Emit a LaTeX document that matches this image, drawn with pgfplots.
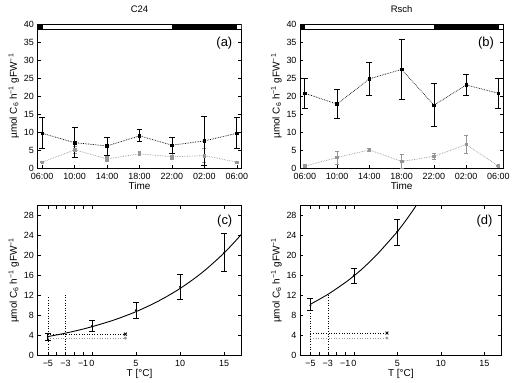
\documentclass[border=0pt]{standalone}
\usepackage{fontspec}
\setmainfont{Liberation Sans}
\usepackage{pgfplots}
\pgfplotsset{compat=1.18}
\definecolor{gser}{RGB}{150,150,150}
\newcommand{\ylab}{µmol C\textsubscript{6} h\textsuperscript{−1} gFW\textsuperscript{−1}}
\pgfplotsset{
  base/.style={scale only axis, axis line style={black, line width=0.7pt},
    tick style={black, line width=0.6pt}, major tick length=3.5pt,
    tick label style={font=\fontsize{9}{10}\selectfont},
    xticklabel style={yshift=-1.5pt},
    label style={font=\fontsize{10}{11}\selectfont},
    title style={font=\fontsize{9.5}{10}\selectfont, yshift=1.5bp},
    /pgf/number format/assume math mode=true, clip=true},
  timeax/.style={base, xmin=-0.6, xmax=24.6, ymin=0, ymax=40,
    xtick={0,4,...,24}, xticklabels={06:00,10:00,14:00,18:00,22:00,02:00,06:00},
    ytick={0,5,...,40}, xlabel={Time}, ylabel={\ylab}, xtick pos=left, ytick pos=both,
    xlabel style={yshift=4pt}, ylabel style={yshift=-2pt}},
  tempax/.style={base, xmin=-6.2, xmax=17, ymin=0, ymax=30,
    xtick={-5,-4,-3,-2,-1,0,5,10,15}, xticklabels={−5,,−3,,−1,0,5,10,15},
    ytick={0,4,...,28}, xlabel={T [°C]}, ylabel={\ylab}, xtick pos=both, ytick pos=both,
    xlabel style={yshift=4pt}, ylabel style={yshift=-2pt}},
  blk/.style={black, densely dotted, line width=0.7pt, mark=square*, mark size=1.3pt,
    mark options={solid},
    error bars/.cd, y dir=both, y explicit,
    error bar style={solid, line width=0.8pt, black},
    error mark options={rotate=90, mark size=3pt, line width=0.8pt, black}},
  gry/.style={gser, densely dotted, line width=0.7pt, mark=square*, mark size=1.3pt,
    mark options={solid},
    error bars/.cd, y dir=both, y explicit,
    error bar style={solid, line width=0.8pt, gser},
    error mark options={rotate=90, mark size=2pt, line width=0.8pt, gser}},
  fitpt/.style={black, only marks, mark=*, mark size=0.8pt,
    error bars/.cd, y dir=both, y explicit,
    error bar style={solid, line width=0.8pt, black},
    error mark options={rotate=90, mark size=3pt, line width=0.8pt, black}},
  curve/.style={black, line width=0.9pt, smooth, no marks},
  vdot/.style={black, dotted, line width=0.6pt, no marks},
}
\begin{document}
\begin{tikzpicture}
\path[use as bounding box] (0,0) rectangle (513bp,383bp);
% (a)
\begin{axis}[timeax, at={(37.3bp,214.7bp)}, anchor=south west, width=204.4bp, height=144.3bp, title={C24}]
\draw[line width=0.7pt, fill=black] (axis cs:-0.6,38.5) rectangle (axis cs:0,40);
\draw[line width=0.7pt, fill=white] (axis cs:0,38.5) rectangle (axis cs:16,40);
\draw[line width=0.7pt, fill=black] (axis cs:16,38.5) rectangle (axis cs:24,40);
\draw[line width=0.7pt, fill=white] (axis cs:24,38.5) rectangle (axis cs:24.6,40);
\addplot[gry] coordinates {
 (0,1.7) +- (0,0.2) (4,5.1) +- (0,1.0) (8,2.6) +- (0,0.6) (12,4.0) +- (0,0.55)
 (16,3.2) +- (0,0.8) (20,3.5) +- (0,2.0) (24,1.7) +- (0,0.2)};
\addplot[blk] coordinates {
 (0,9.7) += (0,4.4) -= (0,4.3)
 (4,7.1) += (0,4.2) -= (0,4.0)
 (8,6.2) += (0,2.5) -= (0,2.6)
 (12,9.0) += (0,1.7) -= (0,1.5)
 (16,6.4) += (0,2.1) -= (0,2.2)
 (20,7.6) += (0,6.8) -= (0,6.8)
 (24,9.7) += (0,4.4) -= (0,4.3)};
\node[anchor=north east, font=\fontsize{13}{14}\selectfont, inner sep=0pt] at (rel axis cs:0.955,0.91) {(a)};
\end{axis}
% (b)
\begin{axis}[timeax, at={(300bp,214.7bp)}, anchor=south west, width=203.3bp, height=144.3bp, title={Rsch}]
\draw[line width=0.7pt, fill=black] (axis cs:-0.6,38.5) rectangle (axis cs:0,40);
\draw[line width=0.7pt, fill=white] (axis cs:0,38.5) rectangle (axis cs:16,40);
\draw[line width=0.7pt, fill=black] (axis cs:16,38.5) rectangle (axis cs:24,40);
\draw[line width=0.7pt, fill=white] (axis cs:24,38.5) rectangle (axis cs:24.6,40);
\addplot[gry] coordinates {
 (0,0.6) +- (0,0.2) (4,3.0) +- (0,1.8) (8,5.1) +- (0,0.3) (12,1.9) +- (0,2.0)
 (16,3.3) +- (0,0.8) (20,6.6) +- (0,2.4) (24,0.6) +- (0,0.2)};
\addplot[blk] coordinates {
 (0,20.8) += (0,4.2) -= (0,4.3)
 (4,17.8) += (0,4.0) -= (0,3.9)
 (8,24.8) += (0,4.6) -= (0,4.5)
 (12,27.4) += (0,8.3) -= (0,8.2)
 (16,17.5) += (0,5.9) -= (0,5.8)
 (20,23.1) += (0,2.8) -= (0,3.0)
 (24,20.8) += (0,4.2) -= (0,4.3)};
\node[anchor=north east, font=\fontsize{13}{14}\selectfont, inner sep=0pt] at (rel axis cs:0.955,0.91) {(b)};
\end{axis}
% (c)
\begin{axis}[tempax, at={(37.3bp,28bp)}, anchor=south west, width=204.4bp, height=149.3bp]
\addplot[vdot] coordinates {(-5,0) (-5,11.7)};
\addplot[vdot] coordinates {(-3,0) (-3,12.2)};
\addplot[vdot, gser] coordinates {(-5,3.4) (3.8,3.4)};
\addplot[gser, only marks, mark=*, mark size=1.3pt] coordinates {(3.8,3.4)};
\addplot[vdot] coordinates {(-5,4.2) (3.8,4.2)};
\addplot[black, only marks, mark=x, mark size=2pt, line width=0.8pt] coordinates {(3.8,4.2)};
\addplot[curve] coordinates {(-5,3.7) (-3,4.39) (-1,5.21) (0,5.68) (2.5,7.03) (5,8.71) (7.5,10.79) (10,13.36) (12.5,16.55) (15,20.5) (17,24.3)};
\addplot[fitpt] coordinates {
 (-5,3.7) += (0,0.7) -= (0,0.8)
 (0,5.8) += (0,1.1) -= (0,1.0)
 (5,9.0) += (0,1.6) -= (0,1.7)
 (10,13.7) += (0,2.5) -= (0,2.6)
 (15,20.5) += (0,3.9) -= (0,3.8)};
\node[anchor=north east, font=\fontsize{13}{14}\selectfont, inner sep=0pt] at (rel axis cs:0.955,0.94) {(c)};
\end{axis}
% (d)
\begin{axis}[tempax, at={(300bp,28bp)}, anchor=south west, width=201.7bp, height=149.3bp]
\addplot[vdot] coordinates {(-5,0) (-5,9.0)};
\addplot[vdot] coordinates {(-3,0) (-3,12.3)};
\addplot[vdot, gser] coordinates {(-5,3.4) (3.8,3.4)};
\addplot[gser, only marks, mark=*, mark size=1.3pt] coordinates {(3.8,3.4)};
\addplot[vdot] coordinates {(-5,4.4) (3.8,4.4)};
\addplot[black, only marks, mark=x, mark size=2pt, line width=0.8pt] coordinates {(3.8,4.4)};
\addplot[curve] coordinates {(-5,10.2) (-3,12.18) (-1,14.55) (0,15.9) (1,17.38) (2.5,19.9) (4,22.8) (5,24.8) (6,27.1) (7,29.6) (7.5,31.0)};
\addplot[fitpt] coordinates {
 (-5,10.0) += (0,1.4) -= (0,1.0)
 (0,16.0) += (0,1.5) -= (0,1.7)
 (5,24.8) += (0,2.4) -= (0,2.7)};
\node[anchor=north east, font=\fontsize{13}{14}\selectfont, inner sep=0pt] at (rel axis cs:0.955,0.94) {(d)};
\end{axis}
\end{tikzpicture}
\end{document}
